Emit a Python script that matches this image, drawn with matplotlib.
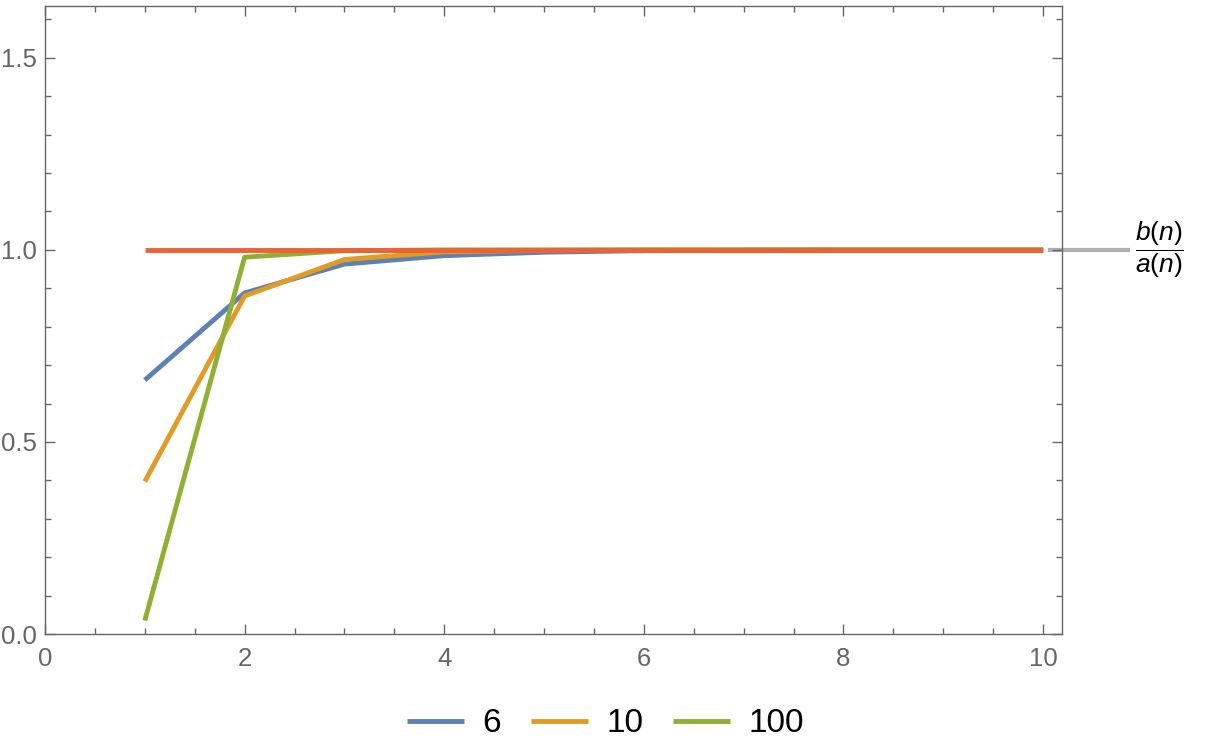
import numpy as np
import matplotlib
matplotlib.use("Agg")
import matplotlib.pyplot as plt
from matplotlib.ticker import MultipleLocator, FormatStrFormatter

plt.rcParams.update({
    "font.family": ["Liberation Sans", "DejaVu Sans"],
    "mathtext.fontset": "custom",
    "mathtext.it": "Liberation Sans:italic",
    "mathtext.rm": "Liberation Sans",
})

# ratio values, n = 1..10
n = [1, 2, 3, 4, 5, 6, 7, 8, 9, 10]
ratio_6 = [0.661, 0.888, 0.963, 0.985, 0.994, 0.998, 0.999, 1.0, 1.0, 1.0]
ratio_10 = [0.397, 0.880, 0.975, 0.995, 0.999, 1.0, 1.0, 1.0, 1.0, 1.0]
ratio_100 = [0.035, 0.981, 0.998, 1.0, 1.0, 1.0, 1.0, 1.0, 1.0, 1.0]
limit = [1.0] * 10
series = [("6", ratio_6, "#5E81B5"), ("10", ratio_10, "#E19C24"), ("100", ratio_100, "#8FB032")]
C_LIMIT = "#EB6235"
C_AX = "#666666"

fig = plt.figure(figsize=(12.11, 7.56), dpi=100)
ax = fig.add_axes([45 / 1211, 122 / 756, (1062 - 45) / 1211, (634 - 6) / 756])

handles = []
for lbl, ys, col in series:
    h, = ax.plot(n, ys, color=col, lw=3.5, solid_capstyle="butt", label=lbl)
    handles.append(h)
ax.plot(n, limit, color=C_LIMIT, lw=3.5, solid_capstyle="butt")

ax.set_xlim(0, 10.19)
ax.set_ylim(0, 1.635)
ax.xaxis.set_major_locator(MultipleLocator(2))
ax.xaxis.set_minor_locator(MultipleLocator(0.5))
ax.yaxis.set_major_locator(MultipleLocator(0.5))
ax.yaxis.set_minor_locator(MultipleLocator(0.1))
ax.xaxis.set_major_formatter(FormatStrFormatter("%d"))
ax.yaxis.set_major_formatter(FormatStrFormatter("%.1f"))
ax.tick_params(which="both", direction="in", top=True, right=True, color=C_AX,
               labelcolor="#666666", labelsize=18.5)
ax.tick_params(which="major", length=7.5, width=1.0)
ax.tick_params(which="minor", length=4.5, width=1.0)
ax.tick_params(axis="y", pad=6)
ax.tick_params(axis="x", pad=9)
for s in ax.spines.values():
    s.set_color(C_AX); s.set_linewidth(1.0)

# callout label for the limit line
ax.plot([10.05, 10.87], [1.0, 1.0], color="#b0b0b0", lw=3.0, clip_on=False,
        solid_capstyle="butt", zorder=0.5)
ax.text(11.17, 1.0, r"$\dfrac{b(n)}{a(n)}$", fontsize=19, ha="center", va="center",
        clip_on=False)

fig.legend(handles=handles, loc="center", bbox_to_anchor=(0.5, 32 / 756),
           ncol=3, frameon=False, fontsize=24, handlelength=1.7, handletextpad=0.55,
           columnspacing=0.9)

fig.savefig("out.png", dpi=100)
